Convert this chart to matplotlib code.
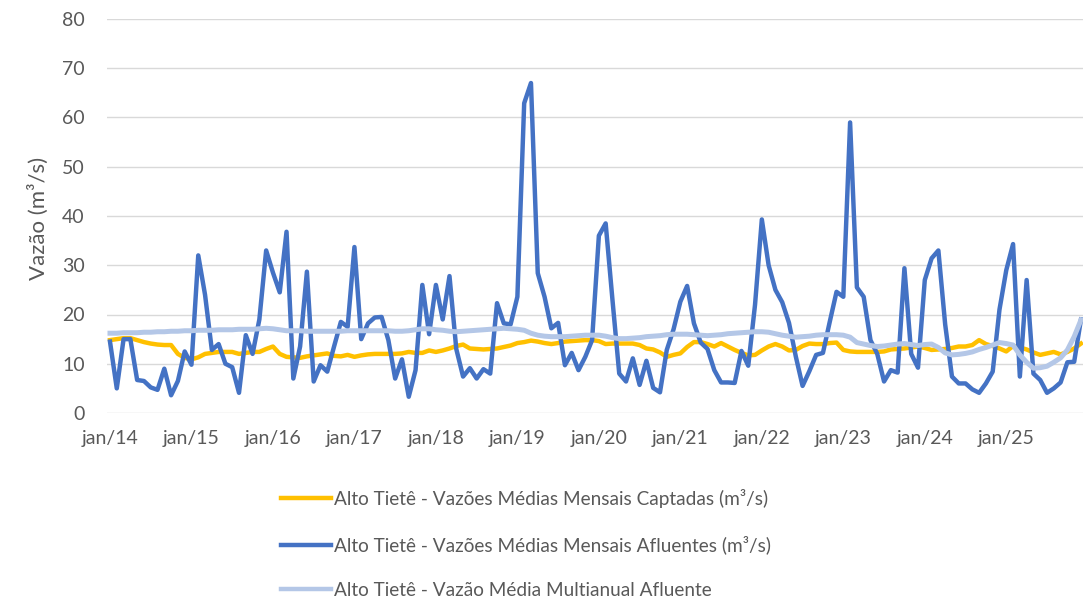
import matplotlib
matplotlib.use("Agg")
import matplotlib.pyplot as plt
import numpy as np

# ---- data (monthly, jan/2014 .. dec/2025) ----
captadas = [
    14.8, 15.0, 15.2, 15.2, 14.8, 14.4, 14.1, 13.9, 13.8, 13.8, 12.0, 11.2,   # 2014
    10.9, 11.3, 12.0, 12.2, 12.4, 12.4, 12.4, 12.0, 12.2, 12.4, 12.4, 13.0,   # 2015
    13.5, 12.0, 11.4, 11.3, 11.2, 11.5, 11.7, 11.9, 12.1, 11.6, 11.5, 11.8,   # 2016
    11.4, 11.7, 11.9, 12.0, 12.0, 12.0, 12.0, 12.1, 12.4, 12.2, 12.2, 12.7,   # 2017
    12.4, 12.7, 13.1, 13.6, 13.9, 13.1, 13.0, 12.9, 13.0, 13.1, 13.4, 13.7,   # 2018
    14.2, 14.4, 14.7, 14.5, 14.2, 14.0, 14.2, 14.5, 14.6, 14.7, 14.8, 14.8,   # 2019
    14.6, 14.0, 14.1, 14.1, 14.1, 14.1, 13.8, 13.1, 12.9, 12.3, 11.4, 11.8,   # 2020
    12.1, 13.4, 14.4, 14.4, 14.0, 13.5, 14.2, 13.5, 12.8, 12.2, 11.7, 11.8,   # 2021
    12.7, 13.5, 14.0, 13.5, 12.7, 12.8, 13.6, 14.1, 14.0, 14.0, 14.2, 14.3,   # 2022
    12.8, 12.5, 12.4, 12.4, 12.4, 12.4, 12.5, 12.9, 13.0, 13.1, 13.3, 13.5,   # 2023
    13.2, 12.8, 12.9, 13.0, 13.2, 13.5, 13.5, 13.8, 14.8, 14.0, 13.6, 13.1,   # 2024
    12.5, 13.6, 13.3, 12.9, 12.3, 11.8, 12.1, 12.4, 11.9, 12.4, 13.1, 14.1,   # 2025
]

afluentes = [
    14.5, 5.0, 15.0, 15.0, 6.7, 6.5, 5.2, 4.7, 9.0, 3.6, 6.5, 12.5,          # 2014
    9.8, 32.0, 24.0, 12.8, 14.0, 10.0, 9.3, 4.1, 15.8, 12.0, 19.0, 33.0,     # 2015
    28.5, 24.5, 36.8, 7.0, 13.5, 28.7, 6.4, 9.7, 8.4, 13.5, 18.5, 17.5,      # 2016
    33.7, 15.0, 18.2, 19.4, 19.5, 14.8, 7.0, 10.9, 3.3, 8.7, 26.0, 16.0,     # 2017
    26.0, 19.0, 27.8, 13.0, 7.4, 9.1, 7.0, 8.9, 8.0, 22.3, 18.2, 18.0,       # 2018
    23.6, 62.9, 67.0, 28.4, 23.6, 17.2, 18.3, 9.7, 12.2, 8.7, 11.4, 14.8,    # 2019
    36.0, 38.5, 23.0, 8.0, 6.4, 11.1, 5.7, 10.6, 5.1, 4.2, 12.8, 17.0,       # 2020
    22.6, 25.8, 18.2, 14.3, 13.0, 8.7, 6.2, 6.2, 6.1, 12.6, 9.6, 22.0,       # 2021
    39.3, 30.0, 25.0, 22.5, 18.3, 11.5, 5.5, 8.5, 11.8, 12.2, 18.5, 24.6,    # 2022
    23.6, 59.0, 25.5, 23.6, 14.8, 12.0, 6.4, 8.7, 8.2, 29.4, 12.0, 9.2,      # 2023
    27.0, 31.4, 33.0, 18.0, 7.4, 6.0, 6.0, 4.8, 4.1, 6.0, 8.4, 21.0,         # 2024
    29.0, 34.3, 7.4, 27.0, 8.0, 6.7, 4.1, 5.0, 6.2, 10.3, 10.4, 19.0,        # 2025
]

multianual = [
    16.2, 16.2, 16.3, 16.3, 16.3, 16.4, 16.4, 16.5, 16.5, 16.6, 16.6, 16.7,  # 2014
    16.7, 16.8, 16.8, 16.8, 16.9, 16.9, 16.9, 17.0, 17.0, 17.0, 17.1, 17.2,  # 2015
    17.1, 16.9, 16.7, 16.7, 16.7, 16.6, 16.6, 16.6, 16.6, 16.6, 16.6, 16.7,  # 2016
    16.7, 16.7, 16.7, 16.7, 16.7, 16.7, 16.6, 16.6, 16.7, 16.9, 17.1, 17.1,  # 2017
    16.9, 16.8, 16.6, 16.5, 16.6, 16.7, 16.8, 16.9, 17.0, 17.1, 17.2, 17.1,  # 2018
    17.0, 16.8, 16.2, 15.8, 15.6, 15.5, 15.5, 15.5, 15.6, 15.7, 15.8, 15.8,  # 2019
    15.8, 15.6, 15.3, 15.1, 15.1, 15.2, 15.3, 15.5, 15.6, 15.7, 15.9, 16.0,  # 2020
    16.0, 16.0, 15.9, 15.8, 15.7, 15.8, 15.9, 16.1, 16.2, 16.3, 16.4, 16.5,  # 2021
    16.5, 16.4, 16.1, 15.8, 15.6, 15.4, 15.5, 15.6, 15.8, 15.9, 15.9, 15.9,  # 2022
    15.8, 15.4, 14.3, 14.0, 13.7, 13.5, 13.6, 13.8, 14.0, 14.1, 13.9, 13.7,  # 2023
    13.9, 14.0, 13.3, 12.2, 11.8, 11.9, 12.1, 12.4, 12.9, 13.3, 13.8, 14.3,  # 2024
    14.1, 13.8, 11.8, 10.3, 9.1, 9.2, 9.5, 10.3, 11.2, 12.8, 15.5, 18.9,     # 2025
]

tick_labels = ["jan/14", "jan/15", "jan/16", "jan/17", "jan/18", "jan/19",
               "jan/20", "jan/21", "jan/22", "jan/23", "jan/24", "jan/25"]

series_names = [
    "Alto Tietê - Vazões Médias Mensais Captadas (m³/s)",
    "Alto Tietê - Vazões Médias Mensais Afluentes (m³/s)",
    "Alto Tietê - Vazão Média Multianual Afluente",
]

# ---- figure ----
plt.rcParams["font.family"] = ["Lato", "DejaVu Sans"]
W, H = 1083, 597
fig = plt.figure(figsize=(W / 100, H / 100), dpi=100)
ax = fig.add_axes([107 / W, 1 - 413 / H, (1083 - 107) / W, (413 - 19) / H])

x = np.arange(len(afluentes))
ax.plot(x, captadas, color="#FFC000", lw=3.2, solid_joinstyle="round", label=series_names[0])
ax.plot(x, afluentes, color="#4472C4", lw=3.2, solid_joinstyle="round", label=series_names[1])
ax.plot(x, multianual, color="#B4C7E7", lw=3.6, solid_joinstyle="round", label=series_names[2])

ax.set_ylim(0, 80)
ax.set_xlim(-0.44, 143.3)
ax.set_yticks(np.arange(0, 81, 10))
ax.set_xticks(np.arange(0, 144, 12))
ax.set_xticklabels(tick_labels)
ax.grid(axis="y", color="#D9D9D9", lw=1.0)
ax.set_axisbelow(True)
for s in ax.spines.values():
    s.set_visible(False)
ax.tick_params(axis="both", length=0, labelsize=14, colors="#595959")
ax.tick_params(axis="y", pad=16)
ax.tick_params(axis="x", pad=12)

fig.text(38 / W, 1 - 218 / H, "Vazão (m³/s)", rotation=90, ha="center", va="center",
         fontsize=16, color="#595959")

handles, labels = ax.get_legend_handles_labels()
leg = fig.legend(handles, labels, loc="upper left", bbox_to_anchor=(281 / W, 1 - 489 / H),
                 frameon=False, fontsize=13.7, handlelength=2.65, handletextpad=0.12,
                 labelspacing=1.45, borderpad=0, borderaxespad=0, labelcolor="#595959")
for lh in leg.get_lines():
    lh.set_linewidth(3.2)

fig.savefig("out.png", dpi=100)
